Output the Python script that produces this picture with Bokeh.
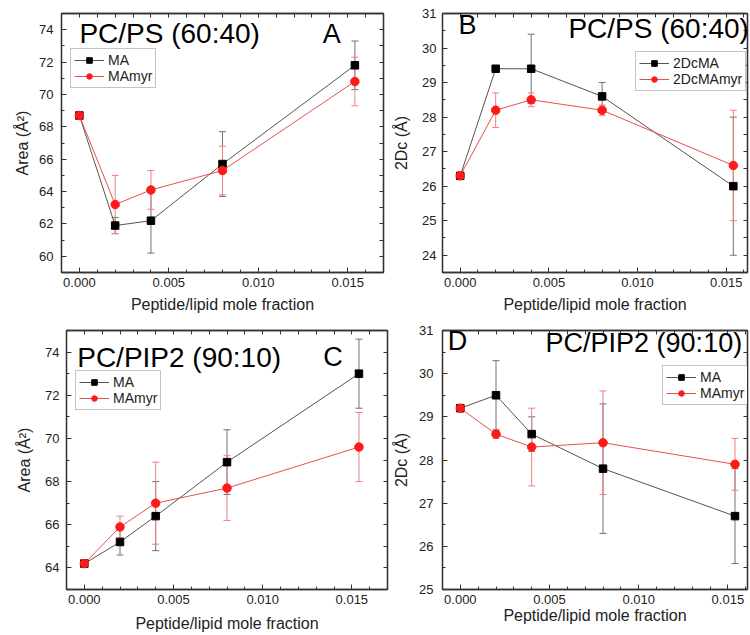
from bokeh.plotting import figure
from bokeh.layouts import column, row
from bokeh.models import (Range1d, SingleIntervalTicker, FixedTicker, PrintfTickFormatter, LinearAxis,
                          Whisker, TeeHead, ColumnDataSource, Label)
from bokeh.embed import file_html
from bokeh.resources import INLINE

# ---------------- data ----------------
x_frac = [0.0, 0.002, 0.004, 0.008, 0.0154]

A_ma = [68.7, 61.9, 62.2, 65.7, 71.8]
A_ma_err = [0.0, 0.5, 2.0, 2.0, 1.5]
A_myr = [68.7, 63.2, 64.1, 65.3, 70.8]
A_myr_err = [0.0, 1.8, 1.2, 1.5, 1.5]

B_ma = [26.3, 29.4, 29.4, 28.6, 26.0]
B_ma_err = [0.0, 0.0, 1.0, 0.4, 2.0]
B_myr = [26.3, 28.2, 28.5, 28.2, 26.6]
B_myr_err = [0.0, 0.5, 0.2, 0.15, 1.6]

C_ma = [64.2, 65.2, 66.4, 68.9, 73.0]
C_ma_err = [0.0, 0.6, 1.6, 1.5, 1.6]
C_myr = [64.2, 65.9, 67.0, 67.7, 69.6]
C_myr_err = [0.0, 0.5, 1.9, 1.5, 1.6]

D_ma = [29.2, 29.5, 28.6, 27.8, 26.7]
D_ma_err = [0.0, 0.8, 0.4, 1.5, 1.1]
D_myr = [29.2, 28.6, 28.3, 28.4, 27.9]
D_myr_err = [0.0, 0.1, 0.9, 1.2, 0.6]

FONT = "Liberation Sans"
BLACK_LINE = "#555555"
RED = "#ff1a1a"
RED_LINE = "#e85050"
BLACK_ERR = "#707070"
RED_ERR = "#f08080"
AX = "#333333"


def style_axis(ax, interval, fmt, minor, label, lstand, tstand):
    ax.ticker = SingleIntervalTicker(interval=interval, num_minor_ticks=minor)
    ax.formatter = PrintfTickFormatter(format=fmt)
    ax.major_tick_in = 5
    ax.major_tick_out = 0
    ax.minor_tick_in = 3
    ax.minor_tick_out = 0
    ax.axis_line_color = AX
    ax.axis_line_width = 1.3
    ax.major_tick_line_color = AX
    ax.minor_tick_line_color = AX
    ax.major_label_text_font = FONT
    ax.major_label_text_color = "#222222"
    ax.major_label_text_font_size = "13px"
    ax.major_label_standoff = tstand
    ax.axis_label = label
    ax.axis_label_text_font = FONT
    ax.axis_label_text_font_size = "16px"
    ax.axis_label_text_font_style = "normal"
    ax.axis_label_text_color = "#222222"
    ax.axis_label_standoff = lstand


def tick_only_axis(lo, hi, step):
    n = int(round((hi - lo) / step))
    ticks = [lo + i * step for i in range(n + 1)]
    ax = LinearAxis(ticker=FixedTicker(ticks=[], minor_ticks=ticks))
    ax.minor_tick_in = 4
    ax.minor_tick_out = 0
    ax.major_tick_in = 0
    ax.major_tick_out = 0
    ax.major_label_standoff = 0
    ax.axis_line_color = AX
    ax.axis_line_width = 1.3
    ax.minor_tick_line_color = AX
    return ax


def whiskers(p, xs, ys, errs, color):
    bx, up, lo = [], [], []
    for xv, yv, ev in zip(xs, ys, errs):
        if ev > 0:
            bx.append(xv)
            up.append(yv + ev)
            lo.append(yv - ev)
    src = ColumnDataSource(data=dict(base=bx, upper=up, lower=lo))
    w = Whisker(base="base", upper="upper", lower="lower", source=src, level="underlay",
                line_color=color, line_width=1,
                upper_head=TeeHead(size=7, line_color=color, line_width=1),
                lower_head=TeeHead(size=7, line_color=color, line_width=1))
    p.add_layout(w)


def panel(width, height, borders, xr, yr, yint, ylabel, ys1, e1, ys2, e2, names,
          ylstand, ytstand, xlstand, legend_loc):
    bl, br, bt, bb = borders
    p = figure(width=width, height=height, x_range=Range1d(*xr), y_range=Range1d(*yr),
               output_backend="svg", toolbar_location=None, tools="",
               min_border_left=bl, min_border_right=br, min_border_top=bt, min_border_bottom=bb)
    p.grid.visible = False
    p.outline_line_color = AX
    p.outline_line_width = 1.3
    p.background_fill_color = "white"
    p.border_fill_color = "white"

    style_axis(p.xaxis[0], 0.005, "%.3f", 5, "Peptide/lipid mole fraction", xlstand, 5)
    style_axis(p.yaxis[0], yint, "%d", 2, ylabel, ylstand, ytstand)
    p.add_layout(tick_only_axis(-0.001, xr[1], 0.001), "above")
    p.add_layout(tick_only_axis(float(int(yr[0])), yr[1], yint / 2.0), "right")

    whiskers(p, x_frac, ys1, e1, BLACK_ERR)
    whiskers(p, x_frac, ys2, e2, RED_ERR)

    p.line(x_frac, ys1, line_color=BLACK_LINE, line_width=1, legend_label=names[0])
    p.scatter(x_frac, ys1, marker="square", size=7.5, fill_color="black", line_color="black",
              legend_label=names[0])
    p.line(x_frac, ys2, line_color=RED_LINE, line_width=1, legend_label=names[1])
    p.scatter(x_frac, ys2, marker="circle", size=8.5, fill_color=RED, line_color=RED,
              legend_label=names[1])

    lg = p.legend[0]
    lg.location = legend_loc
    lg.label_text_font = FONT
    lg.label_text_font_size = "14px"
    lg.label_text_color = "#222222"
    lg.glyph_width = 30
    lg.glyph_height = 14
    lg.label_height = 14
    lg.padding = 3
    lg.spacing = 0
    lg.margin = 0
    lg.label_standoff = 4
    lg.border_line_color = "#888888"
    lg.border_line_width = 1
    lg.background_fill_alpha = 1
    return p


def add_text(p, x, y, text, size, align="left"):
    p.add_layout(Label(x=x, y=y, text=text, text_font=FONT, text_font_size=size,
                       text_color="black", text_align=align, text_baseline="alphabetic"))


pA = panel(390, 316, (61, 7, 13, 44), (-0.001, 0.017), (59, 75), 2, "Area (Å²)",
           A_ma, A_ma_err, A_myr, A_myr_err, ["MA", "MAmyr"], 5, 8, 6, (9, 184))
add_text(pA, 0.0, 73.75, "PC/PS (60:40)", "28px")
add_text(pA, 0.0136, 73.75, "A", "27px")

pB = panel(360, 316, (47, 3, 13, 44), (-0.001, 0.0162), (23.5, 31), 1, "2Dc (Å)",
           B_ma, B_ma_err, B_myr, B_myr_err, ["2DcMA", "2DcMAmyr"], 9, 6, 6, (193, 181))
add_text(pB, -0.0001, 30.67, "B", "27px")
add_text(pB, 0.0061, 30.58, "PC/PS (60:40)", "28px")

pC = panel(390, 319, (66, 3, 14, 46), (-0.001, 0.017), (63, 75), 2, "Area (Å²)",
           C_ma, C_ma_err, C_myr, C_myr_err, ["MA", "MAmyr"], 9, 7, 8, (9, 179))
add_text(pC, -0.0004, 73.75, "PC/PIP2 (90:10)", "28px")
add_text(pC, 0.0134, 73.75, "C", "27px")

pD = panel(360, 319, (48, 3, 14, 46), (-0.001, 0.0161), (25, 31), 1, "2Dc (Å)",
           D_ma, D_ma_err, D_myr, D_myr_err, ["MA", "MAmyr"], 6, 9, 0, (220, 184))
add_text(pD, -0.0007, 30.75, "D", "27px")
add_text(pD, 0.0158, 30.7, "PC/PIP2 (90:10)", "27px", align="right")

layout = column(row(pA, pB), row(pC, pD))

open("out.html", "w").write(file_html(layout, INLINE))
